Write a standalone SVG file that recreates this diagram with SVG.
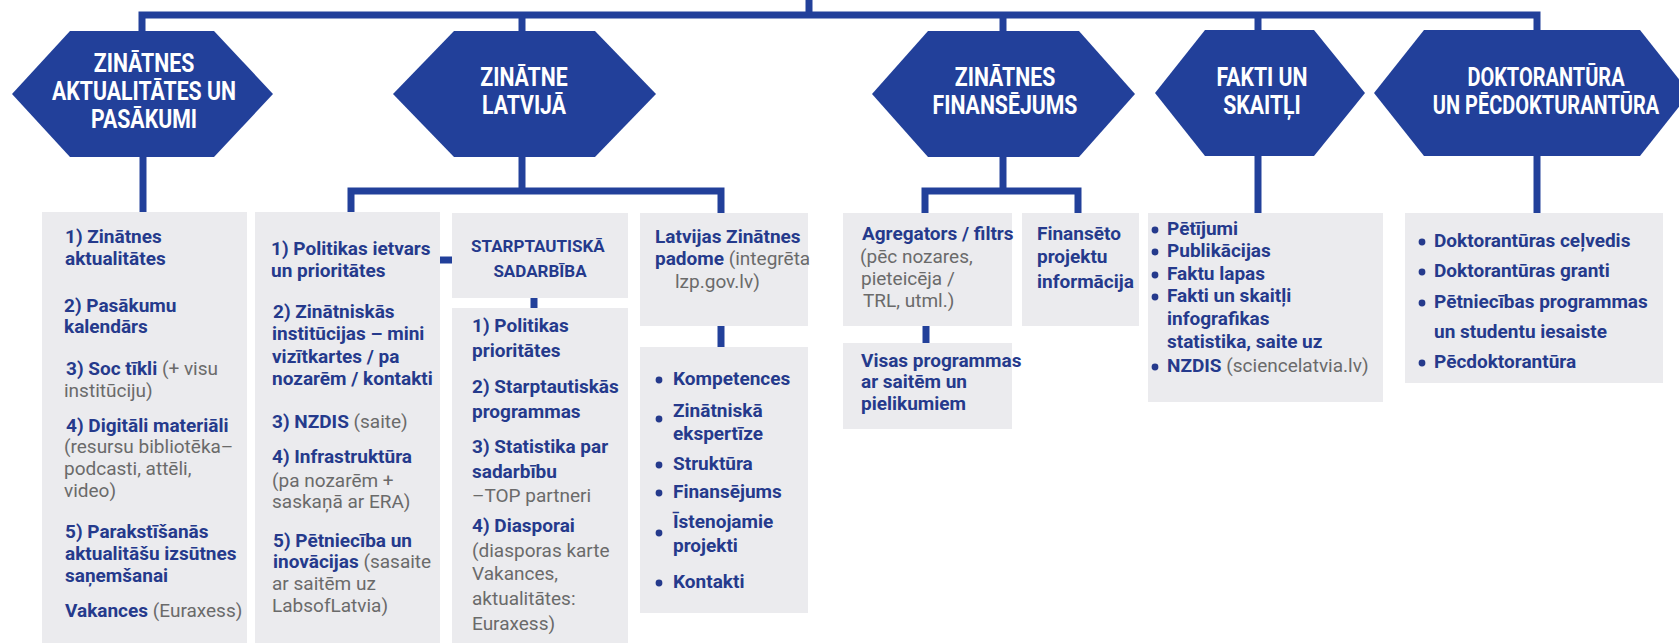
<svg xmlns="http://www.w3.org/2000/svg" width="1679" height="643" viewBox="0 0 1679 643">
<style>
.bg{fill:#ffffff}
.hex{fill:#22409a}
.ht{font-family:Roboto,"Liberation Sans",sans-serif;font-weight:700;font-size:25px;fill:#ffffff;text-anchor:middle}
.box{fill:#ebebee}
.t{font-family:Roboto,"Liberation Sans",sans-serif;font-weight:700;font-size:19px;fill:#253a8c}
.g{font-weight:400;fill:#6a6a6a}
.hd{font-size:17px;text-anchor:middle}
.c{stroke:#22409a;stroke-width:7;fill:none}
.dot{fill:#253a8c}
</style>
<rect class="bg" x="0" y="0" width="1679" height="643"/>
<g id="connectors">
  <line class="c" x1="809" y1="0" x2="809" y2="15"/>
  <path class="c" d="M142,34 V15 H1537 V34"/>
  <line class="c" x1="522" y1="15" x2="522" y2="34"/>
  <line class="c" x1="1003" y1="15" x2="1003" y2="34"/>
  <line class="c" x1="1258" y1="15" x2="1258" y2="34"/>
  <line class="c" x1="143" y1="155" x2="143" y2="213"/>
  <path class="c" d="M351,213 V191 H721 V213"/>
  <line class="c" x1="522" y1="155" x2="522" y2="191"/>
  <path class="c" d="M925,213 V191 H1078 V213"/>
  <line class="c" x1="1003" y1="155" x2="1003" y2="191"/>
  <line class="c" x1="1258" y1="155" x2="1258" y2="213"/>
  <line class="c" x1="1537" y1="155" x2="1537" y2="213"/>
  <line class="c" x1="440" y1="260" x2="453" y2="260"/>
  <line class="c" x1="534" y1="297" x2="534" y2="309"/>
  <line class="c" x1="721" y1="325" x2="721" y2="348"/>
  <line class="c" x1="926" y1="325" x2="926" y2="344"/>
</g>
<g id="hex1">
  <polygon class="hex" points="12,94 70,31 214,31 273,94 214,157 70,157"/>
  <text class="ht" transform="translate(144,0) scale(0.85,1)"><tspan x="0" y="72">ZINĀTNES</tspan><tspan x="0" y="100">AKTUALITĀTES UN</tspan><tspan x="0" y="128">PASĀKUMI</tspan></text>
</g>
<g id="hex2">
  <polygon class="hex" points="393,94 454,31 595,31 656,94 595,157 454,157"/>
  <text class="ht" transform="translate(524,0) scale(0.85,1)"><tspan x="0" y="86">ZINĀTNE</tspan><tspan x="0" y="114">LATVIJĀ</tspan></text>
</g>
<g id="hex3">
  <polygon class="hex" points="872,94 928,31 1079,31 1135,94 1079,157 928,157"/>
  <text class="ht" transform="translate(1005,0) scale(0.85,1)"><tspan x="0" y="86">ZINĀTNES</tspan><tspan x="0" y="114">FINANSĒJUMS</tspan></text>
</g>
<g id="hex4">
  <polygon class="hex" points="1155,93 1205,30 1314,30 1365,93 1314,156 1205,156"/>
  <text class="ht" transform="translate(1262,0) scale(0.85,1)"><tspan x="0" y="86">FAKTI UN</tspan><tspan x="0" y="114">SKAITĻI</tspan></text>
</g>
<g id="hex5">
  <polygon class="hex" points="1374,93 1424,30 1640,30 1690,93 1640,156 1424,156"/>
  <text class="ht" transform="translate(1546,0) scale(0.8,1)"><tspan x="0" y="86">DOKTORANTŪRA</tspan><tspan x="0" y="114">UN PĒCDOKTURANTŪRA</tspan></text>
</g>
<g id="box-aktualitates">
  <rect class="box" x="42" y="212" width="205" height="431"/>
  <text class="t">
    <tspan x="65" y="243">1) Zinātnes</tspan>
    <tspan x="65" y="265">aktualitātes</tspan>
    <tspan x="64" y="312">2) Pasākumu</tspan>
    <tspan x="64" y="333">kalendārs</tspan>
    <tspan x="66" y="375">3) Soc tīkli <tspan class="g">(+ visu</tspan></tspan>
    <tspan class="g" x="64" y="397">institūciju)</tspan>
    <tspan x="66" y="432">4) Digitāli materiāli</tspan>
    <tspan class="g" x="64" y="453">(resursu bibliotēka–</tspan>
    <tspan class="g" x="64" y="475">podcasti, attēli,</tspan>
    <tspan class="g" x="64" y="497">video)</tspan>
    <tspan x="65" y="538">5) Parakstīšanās</tspan>
    <tspan x="65" y="560">aktualitāšu izsūtnes</tspan>
    <tspan x="65" y="582">saņemšanai</tspan>
    <tspan x="65" y="617">Vakances <tspan class="g">(Euraxess)</tspan></tspan>
  </text>
</g>
<g id="box-politikas">
  <rect class="box" x="255" y="212" width="185" height="431"/>
  <text class="t">
    <tspan x="271" y="255">1) Politikas ietvars</tspan>
    <tspan x="271" y="277">un prioritātes</tspan>
    <tspan x="273" y="318">2) Zinātniskās</tspan>
    <tspan x="272" y="340">institūcijas – mini</tspan>
    <tspan x="272" y="363">vizītkartes / pa</tspan>
    <tspan x="272" y="385">nozarēm / kontakti</tspan>
    <tspan x="272" y="428">3) NZDIS <tspan class="g">(saite)</tspan></tspan>
    <tspan x="272" y="463">4) Infrastruktūra</tspan>
    <tspan class="g" x="272" y="487">(pa nozarēm +</tspan>
    <tspan class="g" x="272" y="508">saskaņā ar ERA)</tspan>
    <tspan x="273" y="547">5) Pētniecība un</tspan>
    <tspan x="273" y="568">inovācijas <tspan class="g">(sasaite</tspan></tspan>
    <tspan class="g" x="272" y="590">ar saitēm uz</tspan>
    <tspan class="g" x="272" y="612">LabsofLatvia)</tspan>
  </text>
</g>
<g id="box-starptautiska">
  <rect class="box" x="452" y="213" width="176" height="85"/>
  <text class="t hd">
    <tspan x="540" y="252">STARPTAUTISKĀ</tspan>
    <tspan x="540" y="277">SADARBĪBA</tspan>
  </text>
</g>
<g id="box-sadarbiba">
  <rect class="box" x="452" y="308" width="176" height="335"/>
  <text class="t">
    <tspan x="472" y="332">1) Politikas</tspan>
    <tspan x="472" y="357">prioritātes</tspan>
    <tspan x="472" y="393">2) Starptautiskās</tspan>
    <tspan x="472" y="418">programmas</tspan>
    <tspan x="472" y="453">3) Statistika par</tspan>
    <tspan x="472" y="478">sadarbību</tspan>
    <tspan class="g" x="472" y="502">–TOP partneri</tspan>
    <tspan x="472" y="532">4) Diasporai</tspan>
    <tspan class="g" x="472" y="557">(diasporas karte</tspan>
    <tspan class="g" x="472" y="580">Vakances,</tspan>
    <tspan class="g" x="472" y="605">aktualitātes:</tspan>
    <tspan class="g" x="472" y="630">Euraxess)</tspan>
  </text>
</g>
<g id="box-lzp">
  <rect class="box" x="640" y="213" width="168" height="113"/>
  <text class="t">
    <tspan x="655" y="243">Latvijas Zinātnes</tspan>
    <tspan x="655" y="265">padome <tspan class="g">(integrēta</tspan></tspan>
    <tspan class="g" x="675" y="288">lzp.gov.lv)</tspan>
  </text>
</g>
<g id="box-lzp-list">
  <rect class="box" x="640" y="347" width="168" height="266"/>
  <circle class="dot" cx="659" cy="380" r="3.4"/>
  <circle class="dot" cx="659" cy="419" r="3.4"/>
  <circle class="dot" cx="659" cy="465" r="3.4"/>
  <circle class="dot" cx="659" cy="493" r="3.4"/>
  <circle class="dot" cx="659" cy="533" r="3.4"/>
  <circle class="dot" cx="659" cy="583" r="3.4"/>
  <text class="t">
    <tspan x="673" y="385">Kompetences</tspan>
    <tspan x="673" y="417">Zinātniskā</tspan>
    <tspan x="673" y="440">ekspertīze</tspan>
    <tspan x="673" y="470">Struktūra</tspan>
    <tspan x="673" y="498">Finansējums</tspan>
    <tspan x="673" y="528">Īstenojamie</tspan>
    <tspan x="673" y="552">projekti</tspan>
    <tspan x="673" y="588">Kontakti</tspan>
  </text>
</g>
<g id="box-agregators">
  <rect class="box" x="843" y="213" width="169" height="113"/>
  <text class="t">
    <tspan x="862" y="240">Agregators / filtrs</tspan>
    <tspan class="g" x="860" y="263">(pēc nozares,</tspan>
    <tspan class="g" x="861" y="285">pieteicēja /</tspan>
    <tspan class="g" x="863" y="307">TRL, utml.)</tspan>
  </text>
</g>
<g id="box-programmas">
  <rect class="box" x="843" y="343" width="169" height="86"/>
  <text class="t">
    <tspan x="861" y="367">Visas programmas</tspan>
    <tspan x="861" y="388">ar saitēm un</tspan>
    <tspan x="861" y="410">pielikumiem</tspan>
  </text>
</g>
<g id="box-finanseto">
  <rect class="box" x="1022" y="213" width="117" height="113"/>
  <text class="t">
    <tspan x="1037" y="240">Finansēto</tspan>
    <tspan x="1037" y="263">projektu</tspan>
    <tspan x="1037" y="288">informācija</tspan>
  </text>
</g>
<g id="box-fakti">
  <rect class="box" x="1148" y="213" width="235" height="189"/>
  <circle class="dot" cx="1155" cy="230" r="3.4"/>
  <circle class="dot" cx="1155" cy="252" r="3.4"/>
  <circle class="dot" cx="1155" cy="275" r="3.4"/>
  <circle class="dot" cx="1155" cy="297" r="3.4"/>
  <circle class="dot" cx="1155" cy="367" r="3.4"/>
  <text class="t">
    <tspan x="1167" y="235">Pētījumi</tspan>
    <tspan x="1167" y="257">Publikācijas</tspan>
    <tspan x="1167" y="280">Faktu lapas</tspan>
    <tspan x="1167" y="302">Fakti un skaitļi</tspan>
    <tspan x="1167" y="325">infografikas</tspan>
    <tspan x="1167" y="348">statistika, saite uz</tspan>
    <tspan x="1167" y="372">NZDIS <tspan class="g">(sciencelatvia.lv)</tspan></tspan>
  </text>
</g>
<g id="box-doktorantura">
  <rect class="box" x="1405" y="213" width="258" height="170"/>
  <circle class="dot" cx="1422" cy="242" r="3.4"/>
  <circle class="dot" cx="1422" cy="272" r="3.4"/>
  <circle class="dot" cx="1422" cy="303" r="3.4"/>
  <circle class="dot" cx="1422" cy="363" r="3.4"/>
  <text class="t">
    <tspan x="1434" y="247">Doktorantūras ceļvedis</tspan>
    <tspan x="1434" y="277">Doktorantūras granti</tspan>
    <tspan x="1434" y="308">Pētniecības programmas</tspan>
    <tspan x="1434" y="338">un studentu iesaiste</tspan>
    <tspan x="1434" y="368">Pēcdoktorantūra</tspan>
  </text>
</g>
</svg>
